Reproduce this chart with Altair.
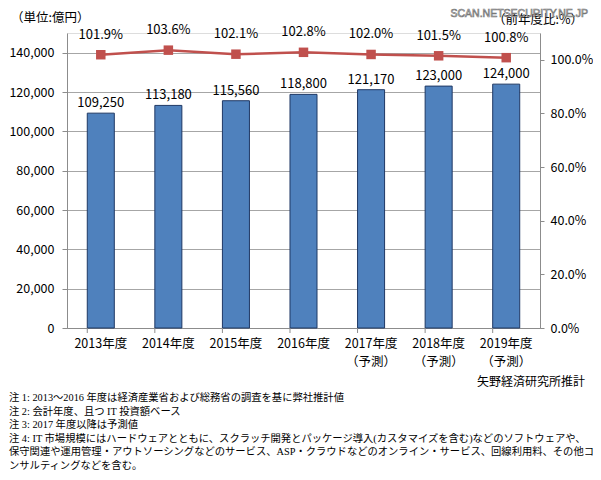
import altair as alt
import pandas as pd

# ---- data ----
years = ["2013年度", "2014年度", "2015年度", "2016年度",
         "2017年度\n（予測）", "2018年度\n（予測）", "2019年度\n（予測）"]
market = [109250, 113180, 115560, 118800, 121170, 123000, 124000]   # 億円
yoy = [1.019, 1.036, 1.021, 1.028, 1.020, 1.015, 1.008]             # 前年度比

left_ticks = [0, 20000, 40000, 60000, 80000, 100000, 120000, 140000]
right_ticks = [0, 0.2, 0.4, 0.6, 0.8, 1.0]

unit_left = "（単位:億円）"
unit_right = "（前年度比:%）"
watermark = "SCAN.NETSECURITY.NE.JP"
source = "矢野経済研究所推計"
notes = [
    "注 1: 2013～2016 年度は経済産業省および総務省の調査を基に弊社推計値",
    "注 2:  会計年度、且つ IT 投資額ベース",
    "注 3: 2017 年度以降は予測値",
    "注 4:  IT 市場規模にはハードウェアとともに、スクラッチ開発とパッケージ導入(カスタマイズを含む)などのソフトウェアや、",
    "保守関連や運用管理・アウトソーシングなどのサービス、ASP・クラウドなどのオンライン・サービス、回線利用料、その他コ",
    "ンサルティングなどを含む。",
]

df = pd.DataFrame({"year": years, "market": market, "yoy": yoy})

SANS = "'Noto Sans CJK JP', sans-serif"
SERIF = "'Liberation Serif', 'Noto Sans CJK JP', serif"
BLUE = "#4f81bd"
RED = "#c0504d"
GRID = "#a6a6a6"
AXIS = "#8c8c8c"

xscale = alt.Scale(domain=years, paddingInner=0.6, paddingOuter=0.3)
xaxis = alt.Axis(labelAngle=0, ticks=False, tickSize=0, domainColor=AXIS,
                 labelExpr="split(datum.label, '\\n')", labelLineHeight=18,
                 labelBaseline="top", labelPadding=9, labelFontSize=12.5,
                 labelColor="#000", labelFont=SANS)
x_main = alt.X("year:N", scale=xscale, sort=None, title=None, axis=xaxis)

base = alt.Chart(df)

yleft = alt.Y("market:Q", scale=alt.Scale(domain=[0, 150000], nice=False), title=None,
              axis=alt.Axis(values=left_ticks, format=",d", grid=True, gridColor=GRID,
                            domainColor=AXIS, tickColor=AXIS, tickSize=5, labelPadding=8,
                            labelFontSize=12.5, labelColor="#000", labelFont=SANS))

bars = base.mark_bar(color=BLUE, stroke="#1f3864", strokeWidth=1).encode(x=x_main, y=yleft)
bar_text = base.mark_text(baseline="bottom", dy=-3, fontSize=13, font=SANS, color="#000").encode(
    x=x_main, y=yleft, text=alt.Text("market:Q", format=",d"))
# category boundary ticks on the x axis
xticks = base.mark_rule(color=AXIS, strokeWidth=1).encode(
    x=alt.X("year:N", scale=xscale, sort=None, title=None, axis=xaxis, bandPosition=0),
    y=alt.value(295), y2=alt.value(300))
left_group = alt.layer(bars, bar_text, xticks)

yright = alt.Y("yoy:Q", scale=alt.Scale(domain=[0, 1.1], nice=False), title=None,
               axis=alt.Axis(values=right_ticks, format=".1%", grid=False, orient="right",
                             domainColor=AXIS, tickColor=AXIS, tickSize=4, labelPadding=6,
                             labelFontSize=12.5, labelColor="#000", labelFont=SANS))

line = base.mark_line(color=RED, strokeWidth=2.5).encode(x=x_main, y=yright)
pts = base.mark_square(color=RED, size=90, opacity=1).encode(x=x_main, y=yright)
pt_text = base.mark_text(dy=-20, fontSize=13, font=SANS, color="#000").encode(
    x=x_main, y=yright, text=alt.Text("yoy:Q", format=".1%"))
right_group = alt.layer(line, pts, pt_text)

txt = alt.Chart(pd.DataFrame({"a": [0]}))
t_unit_left = txt.mark_text(text=unit_left, align="left", baseline="middle", fontSize=12.5,
                            font=SANS, color="#000").encode(x=alt.value(-56), y=alt.value(-15))
t_unit_right = txt.mark_text(text=unit_right, align="right", baseline="middle", fontSize=12.5,
                             font=SANS, color="#000").encode(x=alt.value(516), y=alt.value(-13))
t_wm = txt.mark_text(text=watermark, align="right", baseline="middle", fontSize=10.5,
                     font="'Liberation Sans', sans-serif", color="#ffffff", stroke="#777777",
                     strokeWidth=0.7).encode(x=alt.value(521), y=alt.value(-19))
t_source = txt.mark_text(text=source, align="right", baseline="middle", fontSize=12,
                         font=SERIF, color="#000").encode(x=alt.value(518), y=alt.value(349))
t_notes = txt.mark_text(text="\n".join(notes), lineBreak="\n", lineHeight=13.6, align="left",
                        baseline="top", fontSize=10.3, font=SERIF, color="#000").encode(
    x=alt.value(-58), y=alt.value(360))

chart = alt.layer(left_group, right_group,
                  t_unit_left, t_unit_right, t_wm, t_source, t_notes).resolve_scale(
    y="independent").properties(
    width=473, height=295,
    autosize=alt.AutoSizeParams(type="none"),
    padding={"left": 59, "top": 25, "right": 53, "bottom": 144},
).configure_view(stroke=None).configure(background="white")

chart.save("out.html", embed_options={"renderer": "svg", "actions": False})
